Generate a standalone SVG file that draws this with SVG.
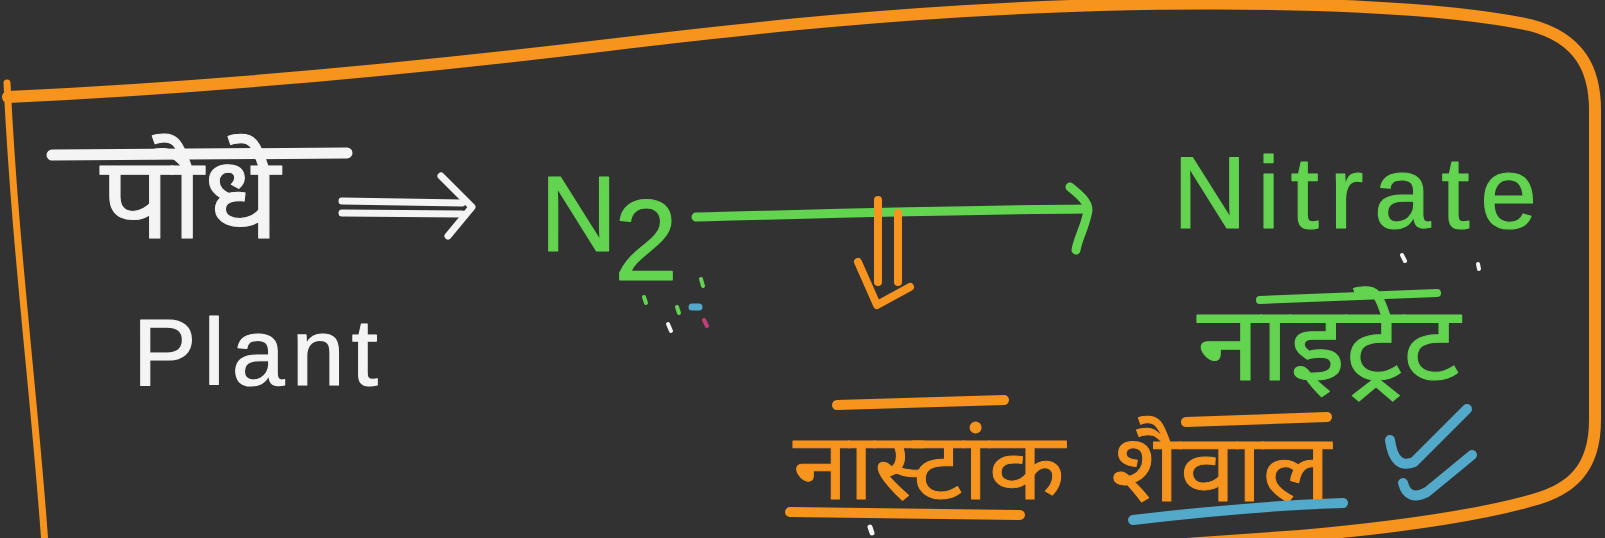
<svg xmlns="http://www.w3.org/2000/svg" width="1605" height="538" viewBox="0 0 1605 538">
<style>
.dv { font-family: "Noto Sans Devanagari", "Noto Sans", "Liberation Sans", sans-serif; stroke-width: 1; stroke-linejoin: round; }
.lt { font-family: "Liberation Sans", "Noto Sans", sans-serif; stroke-width: 1.2; stroke-linejoin: round; }
.w { fill: #F4F4F4; stroke: #F4F4F4; }
.g { fill: #62D44F; stroke: #62D44F; }
.o { fill: #F7941D; stroke: #F7941D; }
.ln { fill: none; stroke-linecap: round; stroke-linejoin: round; }
.sw { stroke: #F4F4F4; }
.sg { stroke: #62D44F; }
.so { stroke: #F7941D; }
.sb { stroke: #52A9C9; }
</style>
<rect width="1605" height="538" fill="#323232"/>
<g id="frame" class="ln so">
  <path d="M 8,97 C 200,88 400,70 600,46 C 750,28 900,11 1100,5 C 1300,0 1450,8 1530,25 C 1580,38 1595,70 1595,110 L 1595,420 C 1595,470 1570,490 1533,500 C 1480,515 1400,527 1300,536 L 1100,550" stroke-width="12"/>
  <path d="M 7,83 C 15,250 35,400 45,545" stroke-width="7"/>
</g>
<g id="connectors" class="ln">
  <g id="arrow-plant-n2" class="sw" stroke-width="7">
    <path d="M 342,201 L 462,203"/>
    <path d="M 342,213 L 462,214"/>
    <path d="M 441,176 L 472,207 L 448,236"/>
  </g>
  <g id="arrow-n2-nitrate" class="sg" stroke-width="9">
    <path d="M 696,217 C 820,214 960,210 1085,209"/>
    <path d="M 1070,187 C 1080,195 1088,202 1088,210 C 1086,225 1078,238 1076,250"/>
  </g>
  <g id="arrow-down" class="so" stroke-width="8">
    <path d="M 878,200 L 878,282"/>
    <path d="M 898,213 L 898,282"/>
    <path d="M 858,262 L 877,305 L 910,287"/>
  </g>
</g>
<g id="plant-hi">
  <path class="ln sw" d="M 52,155 L 347,153" stroke-width="11"/>
  <text class="dv w" x="100" y="238" font-size="115" textLength="180" lengthAdjust="spacingAndGlyphs">पौधे</text>
</g>
<g id="plant-en">
  <text class="lt w" x="133" y="385" font-size="95" textLength="245" lengthAdjust="spacing">Plant</text>
</g>
<g id="n2">
  <text class="lt g" x="540" y="251" font-size="107">N<tspan x="614" y="280" font-size="115">2</tspan></text>
  <g class="ln" stroke-width="4">
    <path class="sg" d="M 701,279 L 703,286"/>
    <path class="sg" d="M 644,297 L 646,303"/>
    <path class="sg" d="M 677,307 L 679,313"/>
    <path class="sw" d="M 668,324 L 671,331"/>
    <path stroke="#52A9C9" d="M 692,307 L 699,307" stroke-width="7"/>
    <path stroke="#C43C7A" d="M 704,320 L 707,326"/>
  </g>
</g>
<g id="nitrate">
  <text class="lt g" x="1173" y="228" font-size="102" textLength="364" lengthAdjust="spacing">Nitrate</text>
</g>
<g id="nitrate-hi">
  <path class="ln sg" d="M 1260,300 L 1437,293" stroke-width="8"/>
  <text class="dv g" x="1197" y="380" font-size="105" textLength="263" lengthAdjust="spacingAndGlyphs">नाइट्रेट</text>
  <g class="ln sw" stroke-width="4">
    <path d="M 1402,255 L 1405,261"/>
    <path d="M 1478,264 L 1479,269"/>
  </g>
</g>
<g id="nostoc">
  <path class="ln so" d="M 837,405 L 1004,400" stroke-width="10"/>
  <text class="dv o" x="793" y="499" font-size="93" textLength="272" lengthAdjust="spacingAndGlyphs">नास्टांक</text>
  <path class="ln so" d="M 790,512 L 1020,515" stroke-width="10"/>
  <path class="ln sw" d="M 870,527 L 872,533" stroke-width="5"/>
</g>
<g id="algae">
  <path class="ln so" d="M 1186,422 L 1327,417" stroke-width="10"/>
  <text class="dv o" x="1111" y="501" font-size="95" textLength="220" lengthAdjust="spacingAndGlyphs">शैवाल</text>
  <path class="ln sb" d="M 1133,520 C 1200,512 1280,505 1343,503" stroke-width="10"/>
</g>
<g id="check" class="ln sb" stroke-width="10">
  <path d="M 1390,440 Q 1394,470 1414,462 L 1467,409"/>
  <path d="M 1403,483 Q 1408,502 1427,492 L 1472,455"/>
</g>
</svg>
